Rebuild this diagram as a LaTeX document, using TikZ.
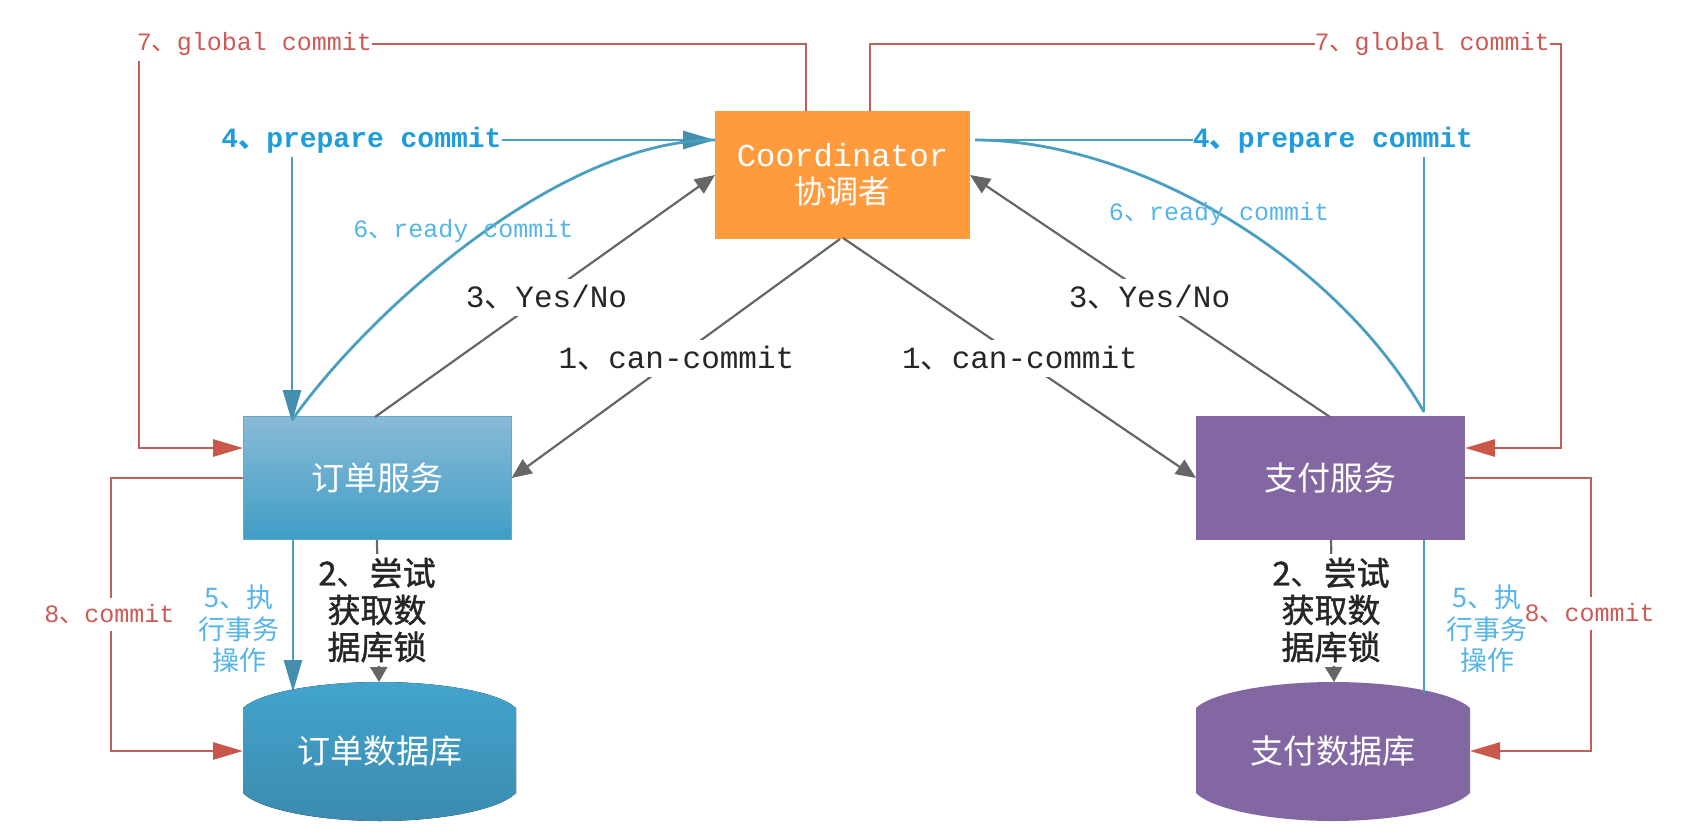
\documentclass[tikz,border=0pt]{standalone}
\usepackage{fontspec}
\setmainfont{Liberation Mono}
\newfontfamily\cjk{Noto Sans CJK SC}
\newfontfamily\cjkfat[FakeBold=1.2]{Noto Sans CJK SC}
\usetikzlibrary{arrows.meta}
\definecolor{cred}{HTML}{C0605A}
\definecolor{tred}{HTML}{CC5A55}
\definecolor{hred}{HTML}{C9574A}
\definecolor{cblue}{HTML}{4A9FC0}
\definecolor{tblue}{HTML}{1E9CDC}
\definecolor{lblue}{HTML}{55B4E8}
\definecolor{cgrey}{HTML}{666666}
\definecolor{cpurple}{HTML}{8367A2}
\definecolor{corange}{HTML}{FF9A3D}
\newcommand{\dun}{{\cjk 、}}
\newcommand{\fs}[2]{\fontsize{#1}{#2}\selectfont}
\tikzset{
  redline/.style={draw=cred,line width=2.8pt},
  redarrow/.style={redline,-{Triangle[length=30pt,width=17pt,color=hred]}},
  blueline/.style={draw=cblue,line width=2.8pt},
  bluearrow/.style={blueline,-{Triangle[length=32pt,width=18pt,color=cblue!90!black]}},
  greyarrow/.style={draw=cgrey,line width=2.2pt,-{Triangle[length=20pt,width=17pt,color=cgrey]}},
  greysmall/.style={draw=cgrey,line width=2.2pt,-{Triangle[length=15pt,width=17pt,color=cgrey]}},
  lab/.style={inner sep=0pt,outer sep=0pt},
  redlab/.style={lab,text=tred,font=\fs{25}{30},fill=white,minimum height=33pt},
  preplab/.style={lab,text=tblue,font=\fs{28}{34}\bfseries,fill=white,minimum height=34pt},
  readylab/.style={lab,text=lblue,font=\fs{25}{30}},
  blacklab/.style={lab,text=black!85,font=\fs{31}{37},fill=white,minimum height=37pt},
  locklab/.style={lab,text=black!85,font=\fs{33}{37}\cjkfat,fill=white,align=center,minimum height=112pt,minimum width=110pt},
  execlab/.style={lab,text=lblue,font=\fs{27}{31.5}\cjk,align=center},
  boxtext/.style={text=white,font=\fs{33}{38}\cjk,align=center},
  orderbox/.style={top color=blue1,bottom color=blue2,draw=blue3,line width=1pt,minimum width=268pt,minimum height=123pt,boxtext,inner sep=0pt},
  paybox/.style={fill=cpurple,minimum width=269pt,minimum height=124pt,boxtext,inner sep=0pt},
  ghost/.style={boxtext,inner sep=0pt},
  coordbox/.style={fill=corange,minimum width=255pt,minimum height=128pt,inner sep=0pt,text=white,align=center,font=\fs{32}{37}},
}
\definecolor{blue1}{HTML}{8ABBD7}
\definecolor{blue2}{HTML}{3F9DC6}
\definecolor{blue3}{HTML}{62A8CB}
\definecolor{dbtop}{HTML}{42A4CC}
\definecolor{dbbot}{HTML}{3C8BB0}
\begin{document}
\begin{tikzpicture}[x=1pt,y=-1pt]
\useasboundingbox (0,0) rectangle (1686,833);
% database bodies
\fill[top color=dbtop,bottom color=dbbot] (243,708) .. controls (260,692) and (320,682) .. (379.5,682) .. controls (440,682) and (499,692) .. (516,708) -- (516,793) .. controls (499,810) and (440,821) .. (379.5,821) .. controls (320,821) and (260,810) .. (243,793) -- cycle;
\fill[cpurple] (1196,708) .. controls (1213,692) and (1273,682) .. (1333,682) .. controls (1393,682) and (1453,692) .. (1470,708) -- (1470,793) .. controls (1453,810) and (1393,821) .. (1333,821) .. controls (1273,821) and (1213,810) .. (1196,793) -- cycle;
% nodes
\node[coordbox] (coord) at (842.5,175) {Coordinator\\{\cjk 协调者}};
\node[orderbox] (order) at (377.5,478) {订单服务};
\node[paybox] (pay) at (1330.5,478) {支付服务};
\node[ghost,minimum width=273pt,minimum height=139pt] (odb) at (379.5,751) {订单数据库};
\node[ghost,minimum width=274pt,minimum height=139pt] (pdb) at (1333,751) {支付数据库};
% anchor points
\coordinate (cUL) at (806,111);
\coordinate (cUR) at (870,111);
\coordinate (cL1) at (715,140);
\coordinate (cR1) at (975,140);
\coordinate (cL3) at (715,175);
\coordinate (cR3) at (970,175);
\coordinate (cB1) at (840,239);
\coordinate (cB2) at (843,238);
\coordinate (oT4) at (292,422);
\coordinate (oT6) at (292,420);
\coordinate (oT3) at (375,417);
\coordinate (oR1) at (511.6,478);
\coordinate (oIn) at (243,448);
\coordinate (oOut) at (243,478);
\coordinate (oB5) at (293,540);
\coordinate (oB2) at (377,540);
\coordinate (dT5) at (293,692);
\coordinate (dT2) at (379,682);
\coordinate (dO8) at (243,751);
\coordinate (pT4) at (1424,412);
\coordinate (pT6) at (1424,412);
\coordinate (pT3) at (1330,417);
\coordinate (pL1) at (1196,478);
\coordinate (pIn) at (1465,448);
\coordinate (pOut) at (1465,478);
\coordinate (pB5) at (1424,540);
\coordinate (pB2) at (1331,540);
\coordinate (qT5) at (1424,693);
\coordinate (qT2) at (1334,682);
\coordinate (qO8) at (1470,751);
\coordinate (r7) at (1561,44);
\coordinate (l8) at (111,478);
\coordinate (r8) at (1591,478);
% labels needing connectors
\node[redlab] (g1) at (254.5,44) {\raisebox{-1pt}{7\dun global commit}};
\node[redlab] (g2) at (1432,44) {\raisebox{-1pt}{7\dun global commit}};
\node[preplab] (p1) at (361.5,140) {\raisebox{-1pt}{4\dun prepare commit}};
\node[preplab] (p2) at (1333,140) {\raisebox{-1pt}{4\dun prepare commit}};
% grey connectors
\draw[greyarrow] (cB1) -- (oR1);
\draw[greyarrow] (cB2) -- (pL1);
\draw[greyarrow] (oT3) -- (cL3);
\draw[greyarrow] (pT3) -- (cR3);
\draw[greysmall] (oB2) -- (dT2);
\draw[greysmall] (pB2) -- (qT2);
% red connectors
\draw[redline] (g1.east) -| (cUL);
\draw[redline] (cUR) |- (g2.west);
\draw[redarrow] ([xshift=2pt]g1.south west) |- (oIn);
\draw[redarrow] (g2.east) -- (r7) |- (pIn);
\draw[redarrow] (oOut) -- (l8) |- (dO8);
\draw[redarrow] (pOut) -- (r8) |- (qO8);
% blue connectors
\draw[bluearrow] (p1.east) -- (cL1);
\draw[blueline] (cR1) -- (p2.west);
\draw[bluearrow] (p1.south -| oT4) -- (oT4);
\draw[blueline] (p2.south -| pT4) -- (pT4);
\draw[blueline] (oT6) .. controls (370,310) and (560,140) .. (cL1);
\draw[blueline] (cR1) .. controls (1130,140) and (1330,250) .. (pT6);
\draw[bluearrow] (oB5) -- (dT5);
\draw[blueline] (pB5) -- (qT5);
% labels over connectors
\node[blacklab] (y1) at (546.5,297) {3\dun Yes/No};
\node[blacklab] (y2) at (1149.5,297) {3\dun Yes/No};
\node[blacklab] (c1) at (676.5,358) {1\dun can-commit};
\node[blacklab] (c2) at (1020,358) {1\dun can-commit};
\node[redlab] (k1) at (109.5,614) {8\dun commit};
\node[redlab] (k2) at (1589.5,613) {8\dun commit};
\node[locklab] (l1) at (377,610) {2\dun 尝试\\获取数\\据库锁};
\node[locklab] (l2) at (1331,610) {2\dun 尝试\\获取数\\据库锁};
\node[readylab] (r1) at (463.5,231) {6\dun ready commit};
\node[readylab] (r2) at (1219,214) {6\dun ready commit};
\node[execlab] (e1) at (239,629) {5\dun 执\\行事务\\操作};
\node[execlab] (e2) at (1487,629) {5\dun 执\\行事务\\操作};
\end{tikzpicture}
\end{document}
